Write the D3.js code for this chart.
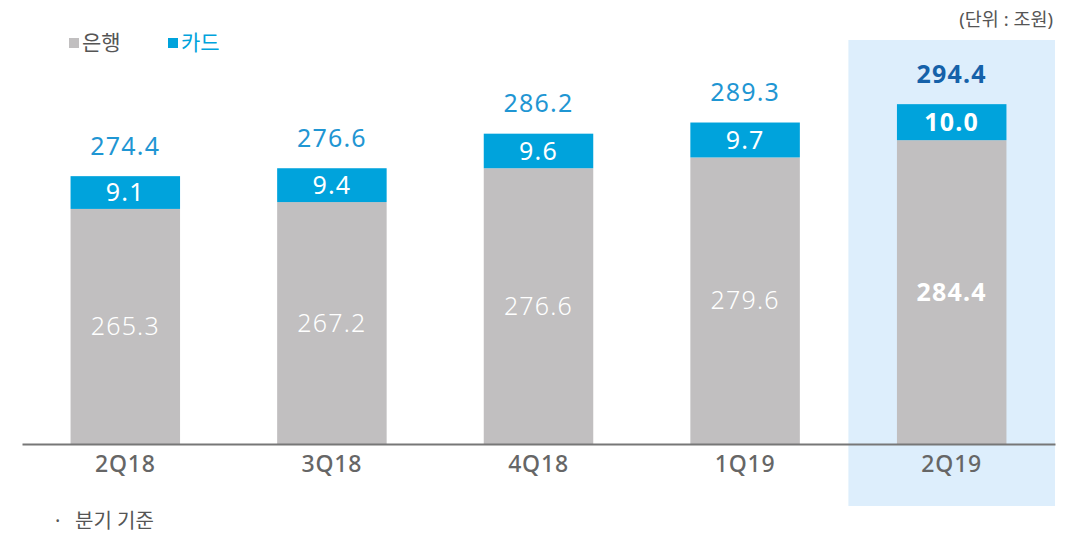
<!DOCTYPE html>
<html><head><meta charset="utf-8">
<script src="https://cdn.jsdelivr.net/npm/d3@7"></script>
<style>
body{margin:0;background:#fff;}
svg{display:block;font-family:"Noto Sans","Noto Sans CJK KR",sans-serif;}
</style></head>
<body><svg id="c" width="1069" height="534"></svg>
<script>
const categories = ["2Q18","3Q18","4Q18","1Q19","2Q19"];
const bankValues = [265.3, 267.2, 276.6, 279.6, 284.4];
const cardValues = [9.1, 9.4, 9.6, 9.7, 10.0];
const totalValues = [274.4, 276.6, 286.2, 289.3, 294.4];
const seriesNames = ["은행","카드"];
const highlightCategory = "2Q19";

const svg = d3.select("#c");
const gray = "#c1bfc0", blue = "#00a3dc", totalBlue = "#1f96d3", hiBlue = "#1561a9";

const x = d3.scaleBand().domain(categories).range([22, 1055]).paddingInner(0.47).paddingOuter(0.235);
const xOuter = d3.scaleBand().domain(categories).range([22, 1055]);
const y = d3.scaleLinear().domain([200, 300]).range([444, 84]);

// highlight
svg.append("rect").attr("x", xOuter(highlightCategory)).attr("y", 40)
  .attr("width", xOuter.bandwidth()).attr("height", 466).attr("fill", "#ddeefc");

const g = svg.append("g");
const numAttrs = sel => sel.attr("dy", "0.35em").attr("text-anchor", "middle")
  .attr("font-size", 25).attr("letter-spacing", 1.2);
categories.forEach((c, i) => {
  const hi = c === highlightCategory;
  const bx = x(c), bw = x.bandwidth(), cx = bx + bw / 2;
  g.append("rect").attr("x", bx).attr("y", y(bankValues[i])).attr("width", bw)
    .attr("height", y(200) - y(bankValues[i])).attr("fill", gray);
  g.append("rect").attr("x", bx).attr("y", y(totalValues[i])).attr("width", bw)
    .attr("height", y(bankValues[i]) - y(totalValues[i])).attr("fill", blue);
  g.append("text").attr("x", cx).attr("y", (y(bankValues[i]) + y(200)) / 2).call(numAttrs)
    .attr("fill", "#fff").attr("font-weight", hi ? 700 : 300).text(bankValues[i].toFixed(1));
  g.append("text").attr("x", cx).attr("y", (y(bankValues[i]) + y(totalValues[i])) / 2).call(numAttrs)
    .attr("fill", "#fff").attr("font-weight", hi ? 700 : 400).text(cardValues[i].toFixed(1));
  g.append("text").attr("x", cx).attr("y", y(totalValues[i]) - 30).call(numAttrs)
    .attr("fill", hi ? hiBlue : totalBlue).attr("font-weight", hi ? 700 : 400).text(totalValues[i].toFixed(1));
});

// axis
const ax = svg.append("g").attr("transform", "translate(0,444)")
  .call(d3.axisBottom(xOuter).tickSize(0).tickPadding(12));
ax.select(".domain").attr("stroke", "#777").attr("stroke-width", 2);
ax.selectAll("text").attr("font-size", 23).attr("fill", "#666").attr("font-weight", 500)
  .attr("letter-spacing", 0.8).attr("font-family", "'Noto Sans',sans-serif");

// legend
const leg = [{n: seriesNames[0], c: gray, t: "#555", x: 69}, {n: seriesNames[1], c: blue, t: blue, x: 168}];
leg.forEach(l => {
  svg.append("rect").attr("x", l.x).attr("y", 38).attr("width", 10).attr("height", 10).attr("fill", l.c);
  svg.append("text").attr("x", l.x + 13).attr("y", 43).attr("dy", "0.35em").attr("font-size", 21)
    .attr("fill", l.t).text(l.n);
});

svg.append("text").attr("x", 1053).attr("y", 20).attr("dy", "0.35em").attr("text-anchor", "end")
  .attr("font-size", 18.5).attr("fill", "#555").text("(단위 : 조원)");
svg.append("text").attr("x", 55).attr("y", 521).attr("dy", "0.35em")
  .attr("font-size", 20).attr("fill", "#555").text("·");
svg.append("text").attr("x", 75).attr("y", 521).attr("dy", "0.35em")
  .attr("font-size", 20).attr("fill", "#555").text("분기 기준");
</script></body></html>
